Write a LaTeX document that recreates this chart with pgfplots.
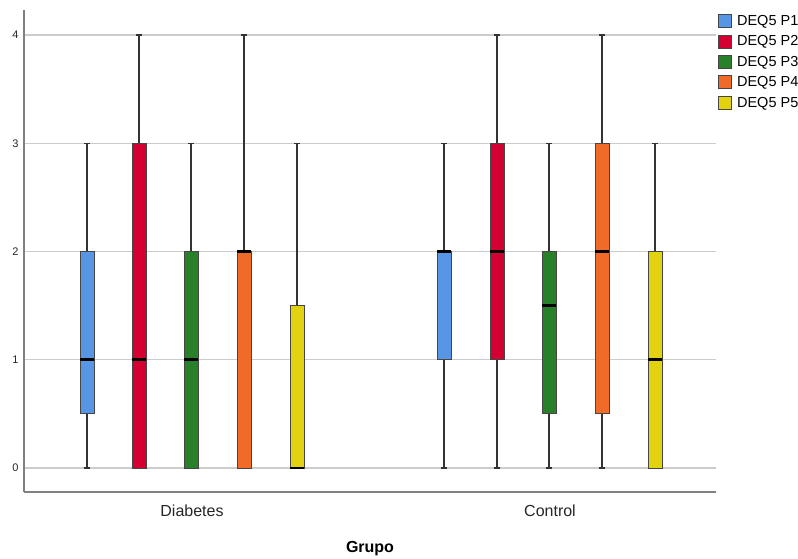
\documentclass[border=0pt]{standalone}
\usepackage{pgfplots}
\pgfplotsset{compat=1.18}
\usepgfplotslibrary{statistics}
\usepackage{fontspec}
\setmainfont{Liberation Sans}
\definecolor{cA}{RGB}{86,150,228}
\definecolor{cB}{RGB}{213,0,50}
\definecolor{cC}{RGB}{40,128,40}
\definecolor{cD}{RGB}{240,106,40}
\definecolor{cE}{RGB}{226,210,16}
\definecolor{bord}{RGB}{70,70,70}
\newcommand{\bp}[7]{\addplot[forget plot, fill=#1, draw=bord, line width=0.8pt,
  boxplot prepared={draw direction=y, draw position=#2, lower whisker=#3, lower quartile=#4,
  median=#5, upper quartile=#6, upper whisker=#7, box extend=0.14, whisker extend=0.06}]
  coordinates {};}
\begin{document}
\begin{tikzpicture}
\useasboundingbox (0,0) rectangle (798pt,558pt);
\begin{axis}[
  at={(24pt,66pt)}, anchor=south west,
  scale only axis, width=692pt, height=482pt,
  xmin=0.24, xmax=7.16, ymin=-0.222, ymax=4.231,
  axis lines*=left,
  axis line style={draw=black!50, line width=1.2pt},
  ytick={0,1,2,3,4},
  xtick={1.92,5.50}, xticklabels={Diabetes,Control},
  ymajorgrids, grid style={draw=black!20, line width=1.2pt},
  major tick length=0pt, tick style={draw=none},
  /pgf/number format/assume math mode=true,
  yticklabel style={font=\fontsize{11}{13}\selectfont, anchor=center, xshift=-8.5pt, text=black!85},
  xticklabel style={font=\fontsize{16}{18}\selectfont, anchor=base, yshift=-24.7pt, text=black!85},
  xlabel={\textbf{Grupo}},
  xlabel style={font=\fontsize{16}{18}\selectfont, at={(axis description cs:0.5,0)}, anchor=base, yshift=-60.7pt},
  boxplot/every whisker/.style={draw=black!80, line width=1.3pt},
  boxplot/every median/.style={draw=black, line width=2.6pt},
  legend image code/.code={\draw[#1, line width=0.8pt] (0pt,-6.5pt) rectangle (13pt,6.5pt);},
  legend style={at={(axis description cs:1.003,0.9938)}, anchor=north west,
    draw=none, fill=none, inner sep=0pt, row sep=4.8pt,
    font=\fontsize{14.5}{16}\selectfont,
    /tikz/every odd column/.append style={column sep=3pt}},
  legend cell align=left,
]
% Diabetes
\bp{cA}{0.87}{0}{0.5}{1}{2}{3}
\bp{cB}{1.39}{0}{0}{1}{3}{4}
\bp{cC}{1.91}{0}{0}{1}{2}{3}
\bp{cD}{2.44}{0}{0}{2}{2}{4}
\bp{cE}{2.97}{0}{0}{0}{1.5}{3}
% Control
\bp{cA}{4.44}{0}{1}{2}{2}{3}
\bp{cB}{4.97}{0}{1}{2}{3}{4}
\bp{cC}{5.49}{0}{0.5}{1.5}{2}{3}
\bp{cD}{6.02}{0}{0.5}{2}{3}{4}
\bp{cE}{6.55}{0}{0}{1}{2}{3}
\addlegendimage{fill=cA, draw=bord}
\addlegendentry{DEQ5 P1}
\addlegendimage{fill=cB, draw=bord}
\addlegendentry{DEQ5 P2}
\addlegendimage{fill=cC, draw=bord}
\addlegendentry{DEQ5 P3}
\addlegendimage{fill=cD, draw=bord}
\addlegendentry{DEQ5 P4}
\addlegendimage{fill=cE, draw=bord}
\addlegendentry{DEQ5 P5}
\end{axis}
\end{tikzpicture}
\end{document}
